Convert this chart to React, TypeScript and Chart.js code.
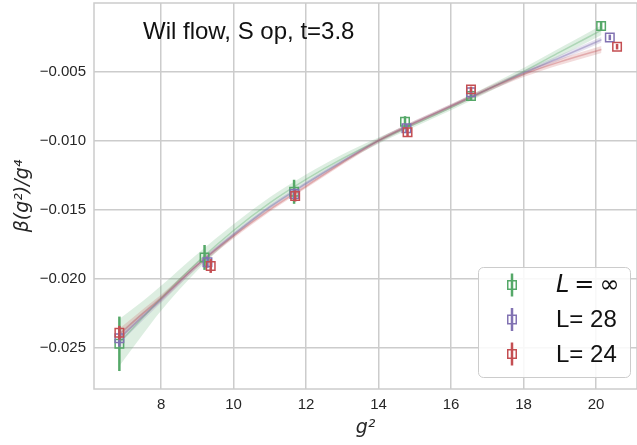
import React, { useEffect, useRef } from 'react';
import { Chart, registerables } from 'chart.js';
Chart.register(...registerables);

// ---- data ----
const titleText = 'Wil flow, S op, t=3.8';
const xTitle = 'g²';
const yTitle = 'β(g²)/g⁴';

const xTicks = [8, 10, 12, 14, 16, 18, 20];
const yTicks = [-0.025, -0.02, -0.015, -0.01, -0.005];

const seriesLabels = ['L = ∞', 'L= 28', 'L= 24'];

// L = infinity (extrapolated)
const xInf = [6.85, 9.2, 11.67, 14.73, 16.55, 20.14];
const yInf = [-0.0247, -0.01845, -0.0137, -0.00863, -0.00677, -0.00171];
const eInf = [0.00197, 0.0009, 0.00087, 0.0004, 0.0003, 0.0003];

// L = 28
const x28 = [6.85, 9.28, 11.68, 14.77, 16.55, 20.38];
const y28 = [-0.0243, -0.0188, -0.01386, -0.0091, -0.0065, -0.00253];
const e28 = [0.0006, 0.0004, 0.0004, 0.0003, 0.0002, 0.0002];

// L = 24
const x24 = [6.85, 9.37, 11.7, 14.8, 16.55, 20.58];
const y24 = [-0.0239, -0.01907, -0.014, -0.0094, -0.00629, -0.0032];
const e24 = [0.0005, 0.0005, 0.0004, 0.0003, 0.0002, 0.0002];

// fit curves and their error bands
const xFit = [6.85, 7.5, 8, 9, 10, 11, 12, 13, 14, 15, 16, 17, 18, 19, 20.15];
const fitInf = [-0.0246, -0.0228, -0.0214, -0.0188, -0.0165, -0.0145, -0.0128, -0.0113, -0.01, -0.0088, -0.0076, -0.0063, -0.005, -0.0036, -0.002];
const bandInf = [0.0017, 0.0012, 0.0009, 0.0006, 0.00045, 0.0004, 0.00035, 0.0003, 0.00022, 0.0002, 0.0002, 0.00022, 0.00025, 0.0003, 0.00035];
const fit28 = [-0.0243, -0.0227, -0.0215, -0.019, -0.0168, -0.0148, -0.0131, -0.0115, -0.01, -0.0087, -0.0075, -0.0063, -0.0051, -0.004, -0.0027];
const band28 = [0.0004, 0.0003, 0.00025, 0.0002, 0.00018, 0.00015, 0.00015, 0.00015, 0.00015, 0.00015, 0.00015, 0.00015, 0.00018, 0.0002, 0.0002];
const fit24 = [-0.024, -0.0225, -0.0214, -0.019, -0.0169, -0.015, -0.0133, -0.0116, -0.01, -0.0087, -0.0075, -0.0063, -0.0052, -0.0043, -0.0034];
const band24 = [0.0004, 0.0003, 0.00025, 0.0002, 0.00018, 0.00015, 0.00015, 0.00015, 0.00015, 0.00015, 0.00015, 0.00018, 0.0002, 0.00022, 0.00025];

// ---- styles ----
const rgbs = [
  [85, 168, 104],
  [129, 114, 178],
  [196, 78, 82],
];
const rgba = (c: number[], a: number) => `rgba(${c[0]},${c[1]},${c[2]},${a})`;
const frameColor = '#cccccc';
const textColor = '#262626';
const sans = "'Liberation Sans', Arial, sans-serif";
const mathFont = "'DejaVu Sans', sans-serif";

const pts = (xs: number[], ys: number[]) => xs.map((x, i) => ({ x, y: ys[i] }));

export default function App() {
  const ref = useRef<HTMLCanvasElement>(null);

  useEffect(() => {
    document.body.style.margin = '0';
    const canvas = ref.current!;

    const groups = [
      { x: xInf, y: yInf, e: eInf, fit: fitInf, band: bandInf, lineA: 0.35 },
      { x: x28, y: y28, e: e28, fit: fit28, band: band28, lineA: 0.45 },
      { x: x24, y: y24, e: e24, fit: fit24, band: band24, lineA: 0.35 },
    ];

    const scatterSets: any[] = [];
    const lineSets: any[] = [];
    const bandPairs: any[][] = [];
    groups.forEach((g, i) => {
      scatterSets.unshift({
        type: 'scatter',
        label: seriesLabels[i],
        data: pts(g.x, g.y),
        errors: g.e,
        pointStyle: 'rect',
        pointRadius: 6,
        pointHoverRadius: 6,
        pointBorderWidth: 1.5,
        borderColor: rgba(rgbs[i], 1),
        backgroundColor: 'rgba(0,0,0,0)',
        showLine: false,
        clip: false,
      });
      lineSets.unshift({
        type: 'line',
        data: pts(xFit, g.fit),
        borderColor: rgba(rgbs[i], g.lineA),
        borderWidth: 1.5,
        pointRadius: 0,
        fill: false,
        cubicInterpolationMode: 'monotone',
      });
      bandPairs.unshift([
        {
          type: 'line',
          data: pts(xFit, g.fit.map((v, k) => v + g.band[k])),
          borderColor: 'rgba(0,0,0,0)',
          borderWidth: 0,
          pointRadius: 0,
          fill: false,
          cubicInterpolationMode: 'monotone',
        },
        {
          type: 'line',
          data: pts(xFit, g.fit.map((v, k) => v - g.band[k])),
          borderColor: 'rgba(0,0,0,0)',
          borderWidth: 0,
          pointRadius: 0,
          fill: '-1',
          backgroundColor: rgba(rgbs[i], 0.2),
          cubicInterpolationMode: 'monotone',
        },
      ]);
    });

    const datasets = [...scatterSets, ...lineSets, ...bandPairs.flat()];

    const framePlugin = {
      id: 'frame',
      beforeDatasetsDraw(chart: any) {
        const { ctx, chartArea: a } = chart;
        ctx.save();
        ctx.strokeStyle = frameColor;
        ctx.lineWidth = 1.5;
        ctx.strokeRect(a.left, a.top, a.right - a.left, a.bottom - a.top);
        ctx.restore();
      },
    };

    const errPlugin = {
      id: 'errbars',
      beforeDatasetDraw(chart: any, args: any) {
        const ds = chart.data.datasets[args.index];
        if (!ds.errors) return;
        const { ctx } = chart;
        const xs = chart.scales.x;
        const ys = chart.scales.y;
        ctx.save();
        ctx.strokeStyle = ds.borderColor;
        ctx.lineWidth = 2.5;
        ds.data.forEach((p: any, k: number) => {
          const px = xs.getPixelForValue(p.x);
          ctx.beginPath();
          ctx.moveTo(px, ys.getPixelForValue(p.y + ds.errors[k]));
          ctx.lineTo(px, ys.getPixelForValue(p.y - ds.errors[k]));
          ctx.stroke();
        });
        ctx.restore();
      },
    };

    const textPlugin = {
      id: 'texts',
      afterDraw(chart: any) {
        const { ctx, chartArea: a } = chart;
        ctx.save();
        // title inside axes
        ctx.fillStyle = '#111111';
        ctx.font = `24px ${sans}`;
        ctx.textBaseline = 'alphabetic';
        ctx.textAlign = 'left';
        ctx.fillText(titleText, a.left + 49, a.top + 35.5);

        // legend
        const bw = 152, bh = 110;
        const bx = a.right - 7 - bw;
        const by = a.bottom - 12 - bh;
        ctx.beginPath();
        (ctx as any).roundRect(bx + 0.5, by + 0.5, bw, bh, 5);
        ctx.fillStyle = 'rgba(255,255,255,0.85)';
        ctx.fill();
        ctx.strokeStyle = frameColor;
        ctx.lineWidth = 1;
        ctx.stroke();

        const scatters = chart.data.datasets.filter((d: any) => d.errors);
        const ordered = [...scatters].reverse();
        ordered.forEach((d: any, i: number) => {
          const cy = by + 18 + i * 34.5;
          const mx = bx + 34;
          ctx.strokeStyle = d.borderColor;
          ctx.lineWidth = 2.5;
          ctx.beginPath();
          ctx.moveTo(mx, cy - 11.5);
          ctx.lineTo(mx, cy + 11.5);
          ctx.stroke();
          ctx.lineWidth = 1.5;
          ctx.strokeRect(mx - 4.25, cy - 4.25, 8.5, 8.5);

          ctx.fillStyle = '#111111';
          ctx.textBaseline = 'middle';
          const tx = bx + 78;
          const label: string = d.label;
          if (label.startsWith('L = ')) {
            ctx.font = `italic 24px ${mathFont}`;
            ctx.fillText('L', tx, cy + 1);
            const w = ctx.measureText('L').width;
            ctx.font = `24px ${mathFont}`;
            ctx.fillText('=', tx + w + 5, cy + 1);
            const w2 = ctx.measureText('=').width;
            ctx.fillText(label.slice(4), tx + w + 5 + w2 + 5, cy + 1);
          } else {
            ctx.font = `24px ${sans}`;
            ctx.fillText(label, tx, cy + 1);
          }
        });
        ctx.restore();
      },
    };

    const chart = new Chart(canvas, {
      type: 'scatter',
      data: { datasets } as any,
      options: {
        animation: false,
        responsive: false,
        maintainAspectRatio: false,
        layout: { autoPadding: false, padding: { top: 3, right: 0, left: 0, bottom: 0 } },
        plugins: {
          legend: { display: false },
          tooltip: { enabled: false },
          title: { display: false },
        },
        scales: {
          x: {
            type: 'linear',
            min: 6.15,
            max: 21.13,
            afterBuildTicks: (s: any) => {
              s.ticks = xTicks.map((v) => ({ value: v }));
            },
            afterFit: (s: any) => {
              s.height = 56;
              s.paddingLeft = 0;
              s.paddingRight = 0;
              s.paddingTop = 0;
              s.paddingBottom = 0;
            },
            grid: { color: frameColor, lineWidth: 1.5, drawTicks: false },
            border: { display: false },
            ticks: {
              padding: 7,
              color: textColor,
              font: { family: sans, size: 15 },
              callback: (v: any) => String(v),
            },
            title: {
              display: true,
              text: xTitle,
              color: textColor,
              font: { family: mathFont, size: 19, style: 'italic' },
              padding: { top: 0, bottom: 6 },
            },
          },
          y: {
            type: 'linear',
            min: -0.02797,
            max: -0.00004,
            afterBuildTicks: (s: any) => {
              s.ticks = yTicks.map((v) => ({ value: v }));
            },
            afterFit: (s: any) => {
              s.width = 94;
              s.paddingLeft = 0;
              s.paddingRight = 0;
              s.paddingTop = 0;
              s.paddingBottom = 0;
            },
            grid: { color: frameColor, lineWidth: 1.5, drawTicks: false },
            border: { display: false },
            ticks: {
              padding: 8,
              color: textColor,
              font: { family: sans, size: 15 },
              callback: (v: any) => (v < 0 ? '−' : '') + Math.abs(Number(v)).toFixed(3),
            },
            title: {
              display: true,
              text: yTitle,
              color: textColor,
              font: { family: mathFont, size: 19, style: 'italic' },
              padding: { top: 12, bottom: 0 },
            },
          },
        },
      } as any,
      plugins: [framePlugin, errPlugin, textPlugin],
    });

    return () => chart.destroy();
  }, []);

  return <canvas ref={ref} width={637} height={445} style={{ display: 'block' }} />;
}
